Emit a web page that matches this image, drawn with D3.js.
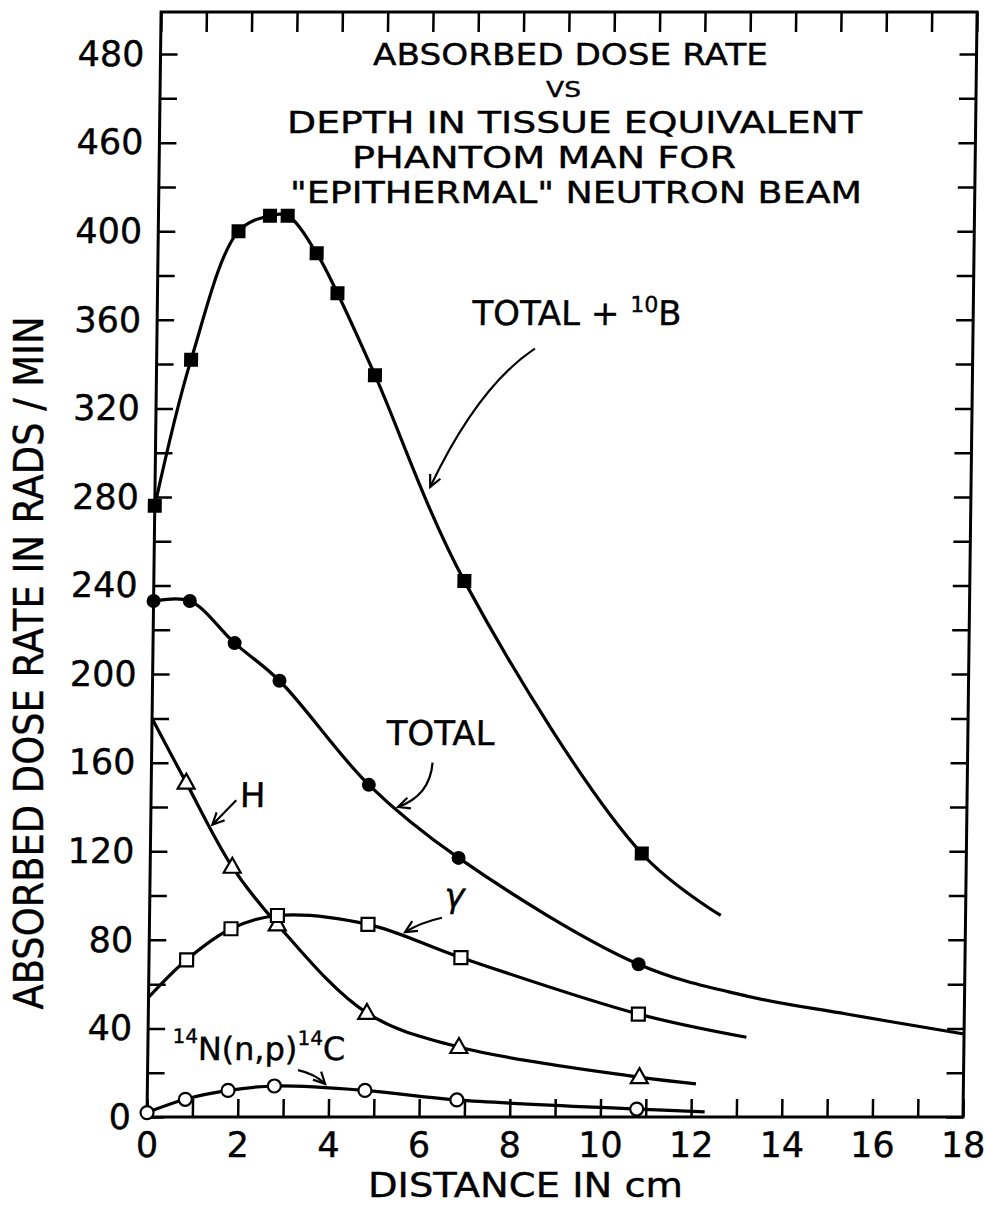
<!DOCTYPE html>
<html>
<head>
<meta charset="utf-8">
<script src="https://cdnjs.cloudflare.com/ajax/libs/d3/7.8.5/d3.min.js"></script>
<style>
  body { margin: 0; background: #fff; }
  svg { display: block; }
  text { font-family: "DejaVu Sans", sans-serif; fill: #000; stroke: #000; stroke-width: 0.4px; }
</style>
</head>
<body>
<script>
// axis ticks and labels
var xTickValues = [0,1,2,3,4,5,6,7,8,9,10,11,12,13,14,15,16,17,18];
var xLabelValues = [0,2,4,6,8,10,12,14,16,18];
var xTickLabels = ["0","2","4","6","8","10","12","14","16","18"];
var yTickValues = [0,20,40,60,80,100,120,140,160,180,200,220,240,260,280,300,320,340,360,380,400,420,440,460,480];
var yLabelValues = [0,40,80,120,160,200,240,280,320,360,400,440,480];
var yTickLabels = ["0","40","80","120","160","200","240","280","320","360","400","460","480"];

// TOTAL + 10B  (filled squares)
var totalBX = [0, 0.76, 1.77, 2.46, 2.85, 3.5, 3.97, 4.82, 6.85, 10.84];
var totalBY = [276, 342, 400, 407, 407, 390, 372, 335, 242, 119];
var totalBTailX = [12.6];
var totalBTailY = [91];

// TOTAL  (filled circles)
var totalX = [0, 0.8, 1.8, 2.8, 4.8, 6.8, 10.8];
var totalY = [233, 233, 214, 197, 150, 117, 69];
var totalTailX = [13.2, 15.4, 18];
var totalTailY = [54.6, 46.5, 37.5];

// H  (open triangles)
var hHeadX = [0], hHeadY = [180];
var hX = [0.77, 1.81, 2.82, 4.82, 6.86, 10.85];
var hY = [151, 113, 87, 47, 31.6, 18];
var hTailX = [12.1], hTailY = [15];

// gamma  (open squares)
var gHeadX = [0], gHeadY = [54];
var gX = [0.83, 1.8, 2.82, 4.82, 6.88, 10.81];
var gY = [71, 85, 91, 87, 72, 46.5];
var gTailX = [13.2], gTailY = [36];

// 14N(n,p)14C  (open circles)
var nX = [0, 0.84, 1.78, 2.8, 4.8, 6.83, 10.8];
var nY = [2, 8, 12, 14, 12, 7.7, 3.6];
var nTailX = [12.3], nTailY = [2.3];

var W = 985, H = 1206;
var plotW = 816, plotH = 1105;

var svg = d3.select("body").append("svg")
  .attr("width", W)
  .attr("height", H)
  .style("background", "#FFFFFF");

var x = d3.scaleLinear().domain([0, 18]).range([0, plotW]);
var y = d3.scaleLinear().domain([0, 499]).range([plotH, 0]);

// the scanned frame leans a little, so the plot group is skewed
var g = svg.append("g")
  .attr("transform", "translate(147,1117) skewX(-0.73) translate(0,-1105)");

g.append("rect")
  .attr("width", plotW)
  .attr("height", plotH)
  .attr("fill", "none")
  .attr("stroke", "#000")
  .attr("stroke-width", 3);

var xLab = new Map(xLabelValues.map(function(v, i) { return [v, xTickLabels[i]]; }));
var yLab = new Map(yLabelValues.map(function(v, i) { return [v, yTickLabels[i]]; }));

function styleAxis(sel) {
  sel.select(".domain").remove();
  sel.selectAll(".tick line").attr("stroke", "#000").attr("stroke-width", 2.5);
  sel.selectAll(".tick text").style("font-size", "35px").attr("fill", "#000")
    .style("font-family", "'DejaVu Sans', sans-serif");
}

g.append("g").attr("transform", "translate(0," + plotH + ")")
  .call(d3.axisBottom(x).tickValues(xTickValues).tickSize(-18).tickPadding(15)
    .tickFormat(function(d) { return xLab.get(d) || ""; }))
  .call(styleAxis);

g.append("g")
  .call(d3.axisTop(x).tickValues(xTickValues).tickSize(-20).tickFormat(""))
  .call(styleAxis);

g.append("g")
  .call(d3.axisLeft(y).tickValues(yTickValues).tickSize(-17).tickPadding(16)
    .tickFormat(function(d) { return yLab.has(d) ? yLab.get(d) : ""; }))
  .call(styleAxis);

g.append("g").attr("transform", "translate(" + plotW + ",0)")
  .call(d3.axisRight(y).tickValues(yTickValues).tickSize(-17).tickFormat(""))
  .call(styleAxis);

// curves
function pts(xs, ys) { return xs.map(function(v, i) { return [v, ys[i]]; }); }

var line = d3.line()
  .x(function(d) { return x(d[0]); })
  .y(function(d) { return y(d[1]); })
  .curve(d3.curveCatmullRom.alpha(0.5));

var curves = [
  pts(totalBX, totalBY).concat(pts(totalBTailX, totalBTailY)),
  pts(totalX, totalY).concat(pts(totalTailX, totalTailY)),
  pts(hHeadX, hHeadY).concat(pts(hX, hY), pts(hTailX, hTailY)),
  pts(gHeadX, gHeadY).concat(pts(gX, gY), pts(gTailX, gTailY)),
  pts(nX, nY).concat(pts(nTailX, nTailY))
];

g.selectAll("path.curve")
  .data(curves)
  .enter()
  .append("path")
  .attr("class", "curve")
  .attr("d", line)
  .attr("fill", "none")
  .attr("stroke", "#000")
  .attr("stroke-width", 3.2);

// markers
g.selectAll("rect.tb")
  .data(pts(totalBX, totalBY))
  .enter().append("rect")
  .attr("x", function(d) { return x(d[0]) - 7; })
  .attr("y", function(d) { return y(d[1]) - 7; })
  .attr("width", 14).attr("height", 14)
  .attr("fill", "#000");

g.selectAll("circle.tot")
  .data(pts(totalX, totalY))
  .enter().append("circle")
  .attr("cx", function(d) { return x(d[0]); })
  .attr("cy", function(d) { return y(d[1]); })
  .attr("r", 7)
  .attr("fill", "#000");

g.selectAll("path.tri")
  .data(pts(hX, hY))
  .enter().append("path")
  .attr("d", function(d) {
    var cx = x(d[0]), cy = y(d[1]);
    return "M" + cx + "," + (cy - 9) + "L" + (cx + 8.5) + "," + (cy + 6) + "L" + (cx - 8.5) + "," + (cy + 6) + "Z";
  })
  .attr("fill", "#fff").attr("stroke", "#000").attr("stroke-width", 2.2);

g.selectAll("rect.gam")
  .data(pts(gX, gY))
  .enter().append("rect")
  .attr("x", function(d) { return x(d[0]) - 6.5; })
  .attr("y", function(d) { return y(d[1]) - 6.5; })
  .attr("width", 13).attr("height", 13)
  .attr("fill", "#fff").attr("stroke", "#000").attr("stroke-width", 2.2);

g.selectAll("circle.np")
  .data(pts(nX, nY))
  .enter().append("circle")
  .attr("cx", function(d) { return x(d[0]); })
  .attr("cy", function(d) { return y(d[1]); })
  .attr("r", 6.5)
  .attr("fill", "#fff").attr("stroke", "#000").attr("stroke-width", 2.2);

// arrows to the curves
function arrow(p0, c, p1) {
  var a = [x(p0[0]), y(p0[1])], b = [x(c[0]), y(c[1])], e = [x(p1[0]), y(p1[1])];
  g.append("path")
    .attr("d", "M" + a + "Q" + b + " " + e)
    .attr("fill", "none").attr("stroke", "#000").attr("stroke-width", 2.2);
  var ang = Math.atan2(e[1] - b[1], e[0] - b[0]);
  var L = 13, s = 0.45;
  g.append("path")
    .attr("d", "M" + (e[0] - L * Math.cos(ang - s)) + "," + (e[1] - L * Math.sin(ang - s)) +
      "L" + e + "L" + (e[0] - L * Math.cos(ang + s)) + "," + (e[1] - L * Math.sin(ang + s)))
    .attr("fill", "none").attr("stroke", "#000").attr("stroke-width", 2.2);
}

arrow([8.34, 347], [7.1, 330], [6.07, 284.5]);
arrow([6.2, 160], [6.15, 145], [5.45, 140]);
arrow([1.88, 143], [1.62, 137.5], [1.36, 132]);
arrow([6.45, 90], [6.0, 88], [5.64, 83.5]);
arrow([3.32, 21.2], [3.7, 19.5], [3.92, 14.9]);

// curve labels
var tb = g.append("text").attr("x", x(6.95)).attr("y", y(357.7)).style("font-size", "34px");
tb.append("tspan").text("TOTAL + ");
tb.append("tspan").attr("dy", -13).style("font-size", "22px").text("10");
tb.append("tspan").attr("dy", 13).text("B");

g.append("text").attr("x", x(5.18)).attr("y", y(168)).style("font-size", "34px").text("TOTAL");
g.append("text").attr("x", x(1.96)).attr("y", y(140)).style("font-size", "34px").text("H");
g.append("text").attr("x", x(6.5)).attr("y", y(95)).style("font-size", "34px")
  .style("font-style", "italic").text("γ");

var np = g.append("text").attr("x", x(0.54)).attr("y", y(25.7)).style("font-size", "32px");
np.append("tspan").attr("dy", -17).style("font-size", "20px").text("14");
np.append("tspan").attr("dy", 17).text("N(n,p)");
np.append("tspan").attr("dy", -15).style("font-size", "20px").text("14");
np.append("tspan").attr("dy", 15).text("C");

// title block
var titleLines = [
  { t: "ABSORBED DOSE RATE", x: 373, y: 65, s: 31, len: 395 },
  { t: "VS", x: 546, y: 97, s: 22, len: 35 },
  { t: "DEPTH IN TISSUE EQUIVALENT", x: 287, y: 133, s: 30, len: 575 },
  { t: "PHANTOM MAN FOR", x: 352, y: 168, s: 30, len: 384 },
  { t: "\"EPITHERMAL\" NEUTRON BEAM", x: 290, y: 203, s: 30, len: 572 }
];
svg.selectAll("text.title")
  .data(titleLines)
  .enter().append("text")
  .attr("class", "title")
  .attr("x", function(d) { return d.x; })
  .attr("y", function(d) { return d.y; })
  .attr("textLength", function(d) { return d.len; })
  .attr("lengthAdjust", "spacingAndGlyphs")
  .style("font-size", function(d) { return d.s + "px"; })
  .text(function(d) { return d.t; });

// axis titles
svg.append("text")
  .attr("x", 368).attr("y", 1197)
  .attr("textLength", 315).attr("lengthAdjust", "spacingAndGlyphs")
  .style("font-size", "33px")
  .text("DISTANCE IN cm");

svg.append("text")
  .attr("transform", "translate(43,663) rotate(-90)")
  .attr("text-anchor", "middle")
  .attr("textLength", 693).attr("lengthAdjust", "spacingAndGlyphs")
  .style("font-size", "40px")
  .text("ABSORBED DOSE RATE IN RADS / MIN");
</script>
</body>
</html>
